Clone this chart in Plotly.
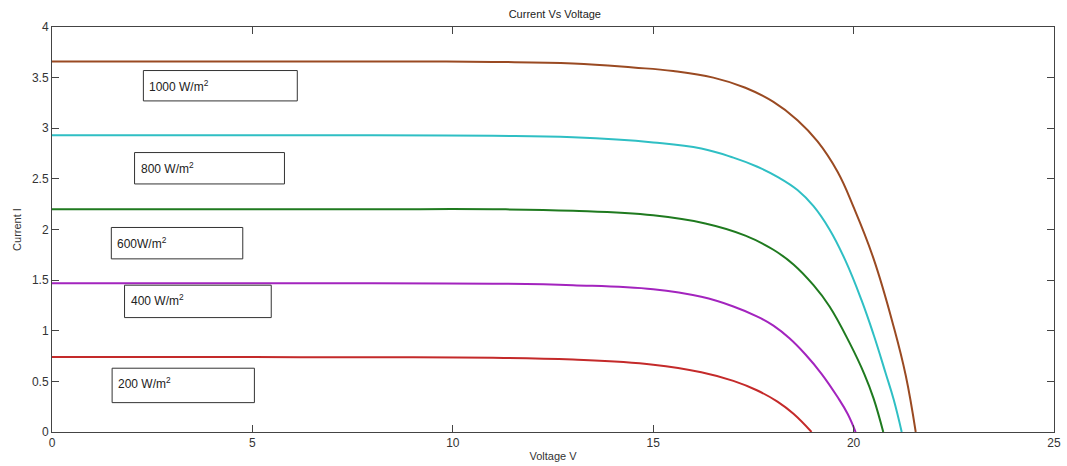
import plotly.graph_objects as go

# I-V curves of a PV module at five irradiance levels
irradiance_labels = ["1000 W/m<sup>2</sup>", "800 W/m<sup>2</sup>", "600W/m<sup>2</sup>",
                     "400 W/m<sup>2</sup>", "200 W/m<sup>2</sup>"]

v_1000 = [0, 4, 8, 11, 13, 14.5, 15.5, 16.5, 17.3, 18.0, 18.6, 19.1, 19.6, 20.0, 20.5, 21.0, 21.3, 21.55]
i_1000 = [3.66, 3.66, 3.66, 3.655, 3.64, 3.60, 3.565, 3.50, 3.40, 3.26, 3.08, 2.87, 2.57, 2.22, 1.71, 1.04, 0.56, 0]

v_800 = [0, 4, 8, 11, 13, 15, 16.2, 17.0, 17.6, 18.1, 18.6, 19.0, 19.4, 19.8, 20.2, 20.5, 20.8, 21.0, 21.2]
i_800 = [2.93, 2.93, 2.93, 2.925, 2.91, 2.86, 2.80, 2.71, 2.62, 2.52, 2.39, 2.23, 2.00, 1.69, 1.30, 0.96, 0.58, 0.32, 0]

v_600 = [0, 4, 8, 11, 13, 15, 16.3, 17.3, 18.0, 18.5, 19.0, 19.4, 19.9, 20.27, 20.5, 20.74]
i_600 = [2.20, 2.20, 2.20, 2.20, 2.185, 2.14, 2.06, 1.94, 1.80, 1.655, 1.45, 1.24, 0.88, 0.57, 0.33, 0]

v_400 = [0, 4, 8, 11, 13, 15, 16.2, 17.0, 17.6, 18.0, 18.4, 18.8, 19.2, 19.6, 19.85, 20.05]
i_400 = [1.47, 1.47, 1.468, 1.465, 1.45, 1.41, 1.335, 1.24, 1.14, 1.05, 0.925, 0.765, 0.575, 0.345, 0.18, 0]

v_200 = [0, 4, 8, 11, 13, 15, 16.2, 17.0, 17.6, 18.1, 18.5, 18.95]
i_200 = [0.74, 0.74, 0.738, 0.733, 0.715, 0.665, 0.59, 0.505, 0.41, 0.30, 0.18, 0]

x_ticks = [0, 5, 10, 15, 20, 25]
y_ticks = [0, 0.5, 1, 1.5, 2, 2.5, 3, 3.5, 4]

series = [
    (v_1000, i_1000, "#9a4a22"),
    (v_800, i_800, "#2fbfc4"),
    (v_600, i_600, "#1f7a1f"),
    (v_400, i_400, "#a324be"),
    (v_200, i_200, "#c42a2a"),
]

# label boxes: (x0, x1, y_bottom, y_top)
boxes = [
    (2.28, 6.12, 3.27, 3.57),
    (2.06, 5.80, 2.45, 2.76),
    (1.48, 4.76, 1.71, 2.02),
    (1.81, 5.47, 1.13, 1.45),
    (1.50, 5.05, 0.29, 0.63),
]

fig = go.Figure()
for v, i, c in series:
    fig.add_trace(go.Scatter(x=v, y=i, mode="lines",
                             line=dict(color=c, width=2, shape="spline", smoothing=1.2),
                             showlegend=False, hoverinfo="skip"))

for (x0, x1, y0, y1), lab in zip(boxes, irradiance_labels):
    fig.add_shape(type="rect", x0=x0, x1=x1, y0=y0, y1=y1, xref="x", yref="y",
                  line=dict(color="#333333", width=1), fillcolor="rgba(255,255,255,0)")
    fig.add_annotation(x=x0, y=y1 - 0.05, xref="x", yref="y", text=lab,
                       showarrow=False, xanchor="left", yanchor="top", xshift=4,
                       font=dict(family="Liberation Sans, Arial", size=12, color="#222222"))

axis_common = dict(showline=True, linecolor="#444444", linewidth=1, mirror="ticks",
                   ticks="inside", ticklen=7, tickcolor="#444444", showgrid=False,
                   zeroline=False,
                   tickfont=dict(family="Liberation Sans, Arial", size=12, color="#333333"))

fig.update_xaxes(range=[0, 25], tickvals=x_ticks, ticktext=[str(t) for t in x_ticks],
                 title=dict(text="Voltage V", standoff=2,
                            font=dict(family="Liberation Sans, Arial", size=11, color="#333333")),
                 **axis_common)
fig.update_yaxes(range=[0, 4], tickvals=y_ticks, ticktext=[f"{t:g}" for t in y_ticks],
                 title=dict(text="Current I", standoff=8,
                            font=dict(family="Liberation Sans, Arial", size=11, color="#333333")),
                 **axis_common)

fig.update_layout(
    width=1067, height=466,
    margin=dict(l=52, r=6, t=27, b=28),
    plot_bgcolor="white", paper_bgcolor="white",
    title=dict(text="Current Vs Voltage", x=0.52, xanchor="center", y=0.97, yanchor="middle",
               font=dict(family="Liberation Sans, Arial", size=11, color="#222222")),
)

fig.write_html("out.html")
